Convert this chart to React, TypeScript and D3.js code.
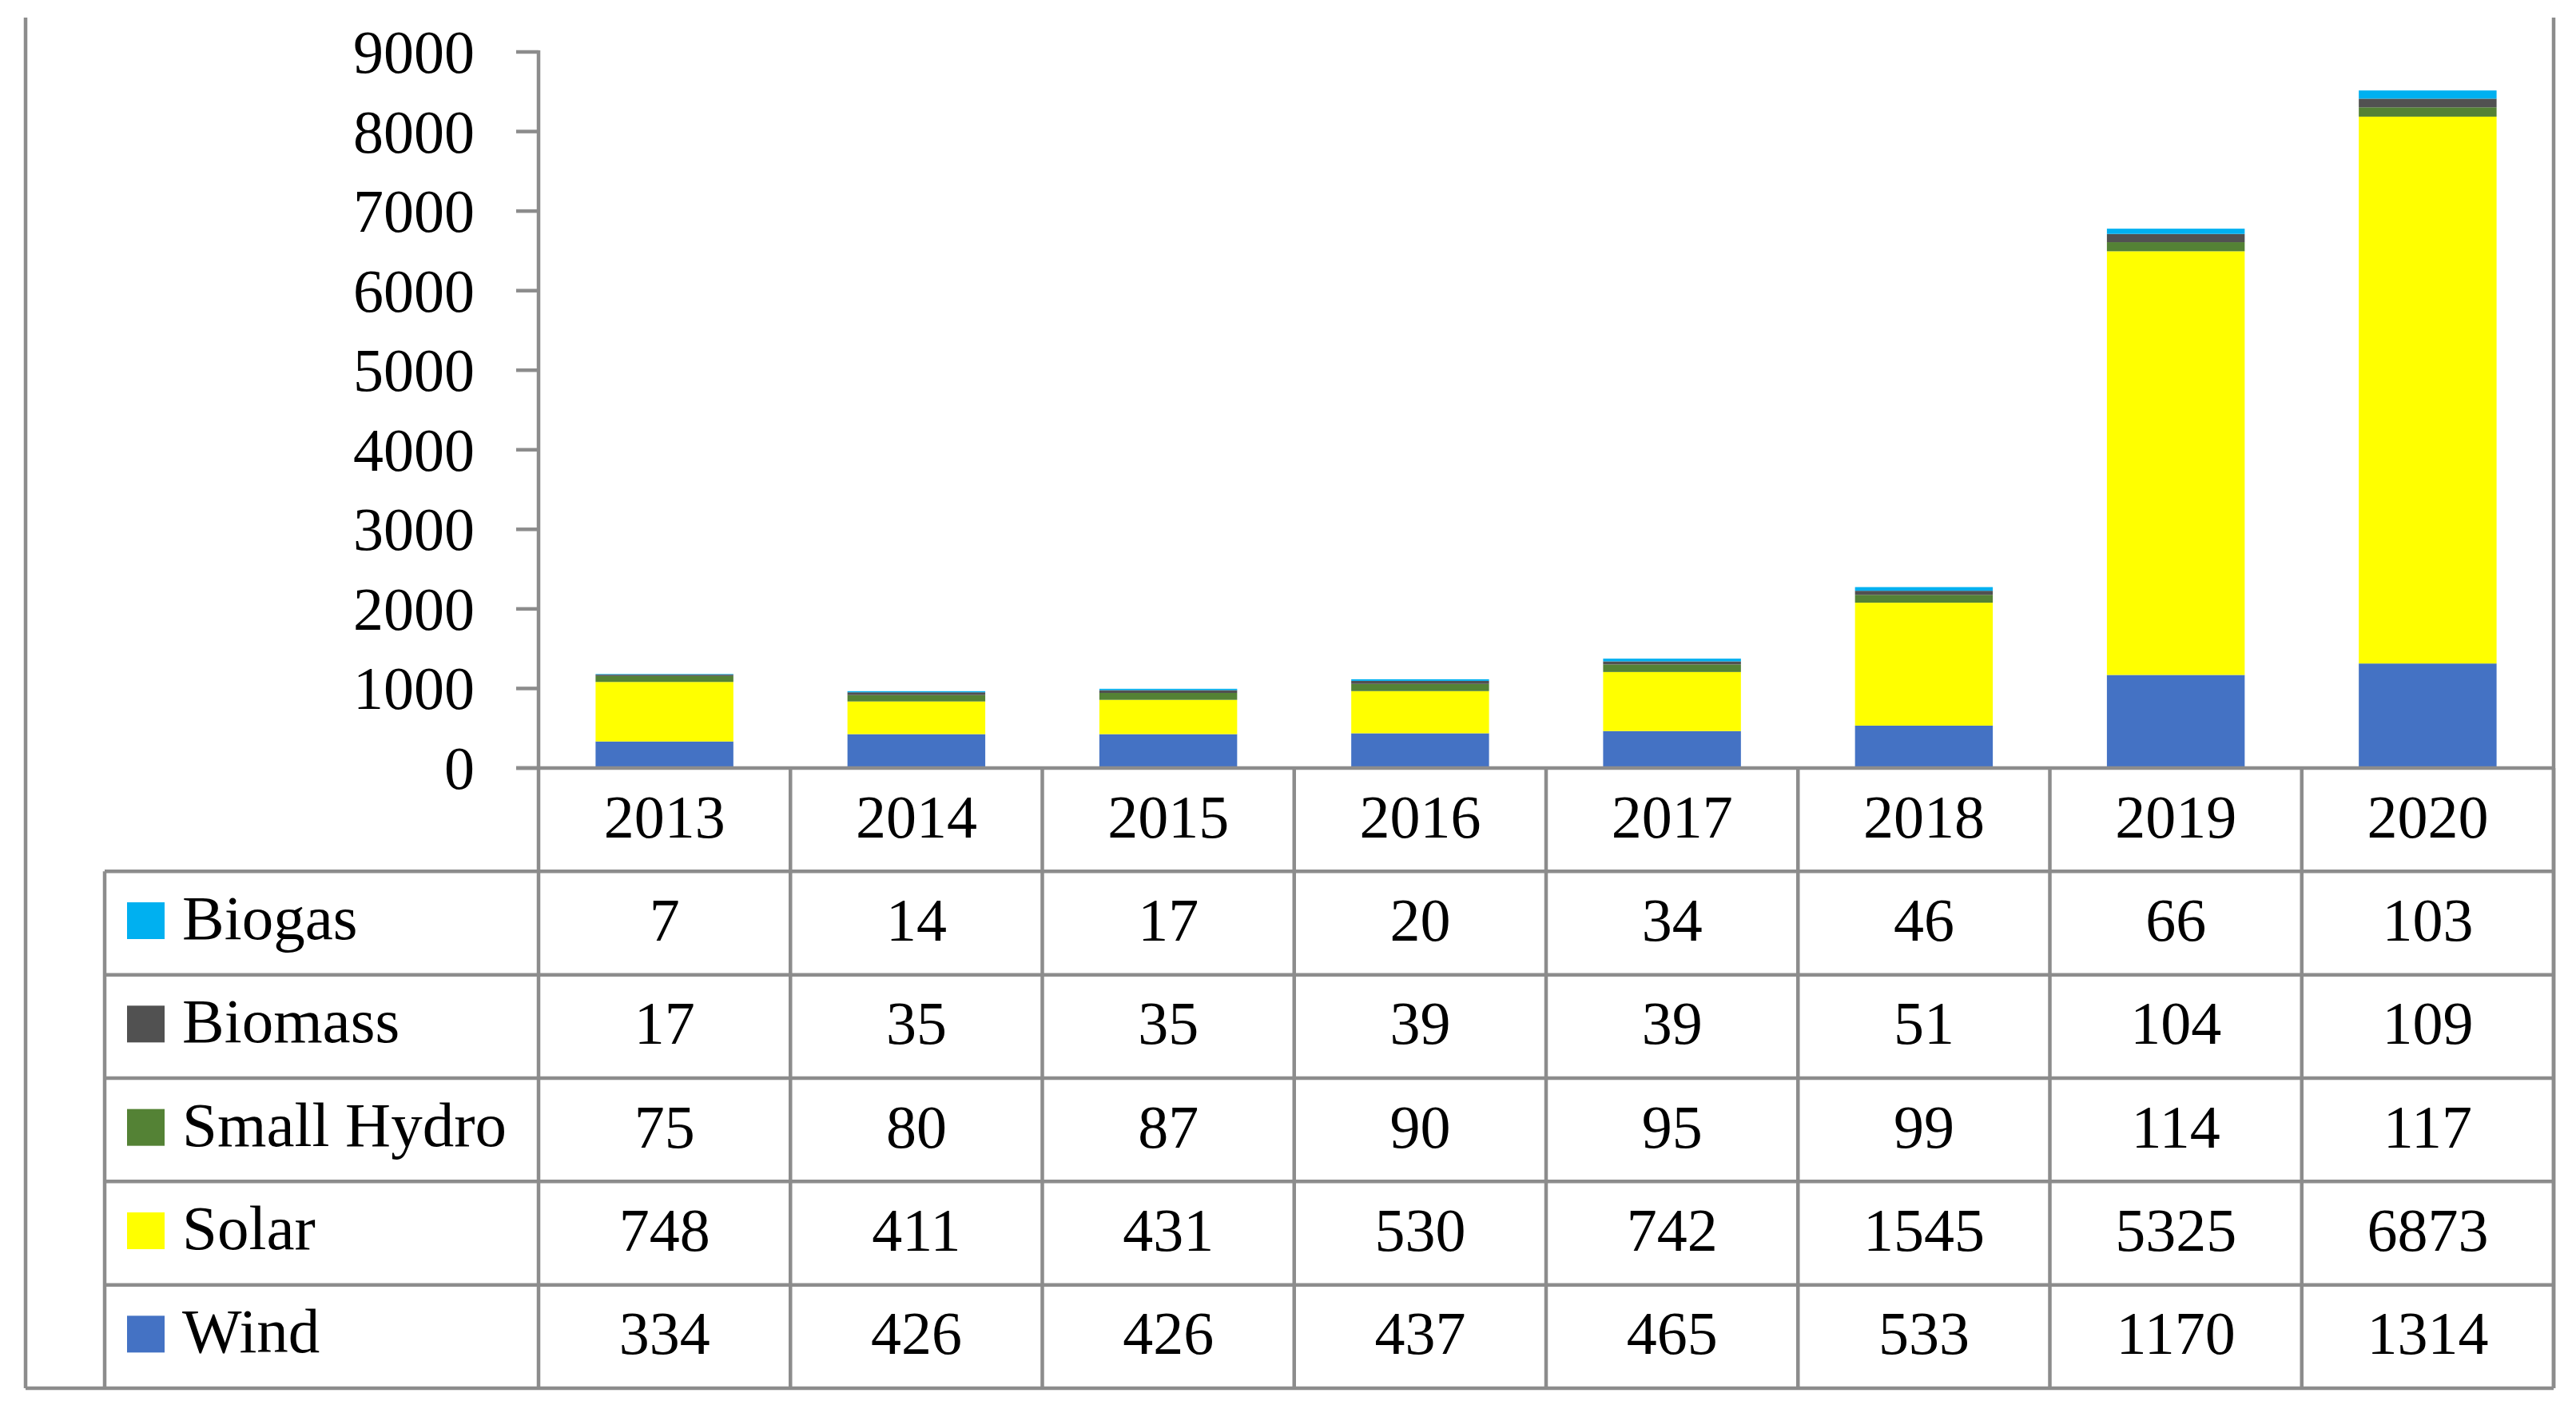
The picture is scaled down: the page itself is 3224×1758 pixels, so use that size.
import React from "react";
import * as d3 from "d3";

const years = ["2013", "2014", "2015", "2016", "2017", "2018", "2019", "2020"];
const biogas = [7, 14, 17, 20, 34, 46, 66, 103];
const biomass = [17, 35, 35, 39, 39, 51, 104, 109];
const smallHydro = [75, 80, 87, 90, 95, 99, 114, 117];
const solar = [748, 411, 431, 530, 742, 1545, 5325, 6873];
const wind = [334, 426, 426, 437, 465, 533, 1170, 1314];
const yTicks = [0, 1000, 2000, 3000, 4000, 5000, 6000, 7000, 8000, 9000];

const seriesNames = ["Biogas", "Biomass", "Small Hydro", "Solar", "Wind"];
const seriesValues = [biogas, biomass, smallHydro, solar, wind];
const seriesColors = ["#00B0F0", "#515151", "#548235", "#FFFF00", "#4472C4"];

const W = 3224;
const H = 1758;
const FONT = "'Liberation Serif', 'Times New Roman', serif";
const GRID = "#8c8c8c";

export default function App() {
  const axisX = 674;
  const rightX = 3196;
  const frameLeft = 32;
  const frameTop = 22;
  const tableLeft = 131;
  const y0 = 961;
  const bottom = 1737;
  const rowH = (bottom - y0) / 6;
  const fs = 76;

  const x = d3.scaleBand<string>().domain(years).range([axisX, rightX]).paddingInner(0.453).paddingOuter(0.2265);
  const y = d3.scaleLinear().domain([0, 9000]).range([y0, 65]);
  const step = x.step();

  const rows = years.map((yr, i) => {
    const o: any = { year: yr };
    seriesNames.forEach((n, k) => (o[n] = seriesValues[k][i]));
    return o;
  });
  const stackOrder = ["Wind", "Solar", "Small Hydro", "Biomass", "Biogas"];
  const stacked = d3.stack<any>().keys(stackOrder)(rows);

  const lineW = 4.5;

  return (
    <svg width={W} height={H} style={{ position: "absolute", left: 0, top: 0, background: "#fff" }} fontFamily={FONT}>
      <rect x={0} y={0} width={W} height={H} fill="#fff" />
      {/* bars */}
      {stacked.map((s) => {
        const color = seriesColors[seriesNames.indexOf(s.key)];
        return (
          <g key={s.key}>
            {s.map((d, i) => (
              <rect
                key={i}
                x={x(years[i])}
                width={x.bandwidth()}
                y={y(d[1])}
                height={y(d[0]) - y(d[1])}
                fill={color}
              />
            ))}
          </g>
        );
      })}
      {/* y ticks */}
      {yTicks.map((t) => (
        <g key={t}>
          <line x1={axisX - 28} x2={axisX} y1={y(t)} y2={y(t)} stroke={GRID} strokeWidth={lineW} />
          <text x={594} y={y(t) + 26} textAnchor="end" fontSize={fs} fill="#000">
            {t}
          </text>
        </g>
      ))}
      {/* y axis line (continues as legend column border) */}
      <line x1={axisX} x2={axisX} y1={y(9000) - 2} y2={bottom} stroke={GRID} strokeWidth={lineW} />
      {/* horizontal axis line */}
      <line x1={axisX - 28} x2={rightX} y1={y0} y2={y0} stroke={GRID} strokeWidth={lineW} />
      {/* column dividers */}
      {years.map((yr, i) => (
        <line
          key={yr}
          x1={axisX + step * (i + 1)}
          x2={axisX + step * (i + 1)}
          y1={y0}
          y2={bottom}
          stroke={GRID}
          strokeWidth={lineW}
        />
      ))}
      {/* table horizontal lines */}
      {[1, 2, 3, 4, 5].map((r) => (
        <line key={r} x1={tableLeft} x2={rightX} y1={y0 + rowH * r} y2={y0 + rowH * r} stroke={GRID} strokeWidth={lineW} />
      ))}
      <line x1={tableLeft} x2={tableLeft} y1={y0 + rowH} y2={bottom} stroke={GRID} strokeWidth={lineW} />
      {/* frame */}
      <line x1={frameLeft} x2={frameLeft} y1={frameTop} y2={bottom} stroke={GRID} strokeWidth={lineW} />
      <line x1={rightX} x2={rightX} y1={frameTop} y2={bottom} stroke={GRID} strokeWidth={lineW} />
      <line x1={frameLeft} x2={rightX} y1={bottom} y2={bottom} stroke={GRID} strokeWidth={lineW} />
      {/* header years */}
      {years.map((yr, i) => (
        <text key={yr} x={axisX + step * (i + 0.5)} y={y0 + rowH / 2 + 22} textAnchor="middle" fontSize={fs} fill="#000">
          {yr}
        </text>
      ))}
      {/* table rows */}
      {seriesNames.map((n, k) => {
        const cy = y0 + rowH * (k + 1.5);
        return (
          <g key={n}>
            <rect x={159} y={cy - 26} width={47} height={46} fill={seriesColors[k]} />
            <text x={228} y={cy + 20} fontSize={fs + 3} fill="#000">
              {n}
            </text>
            {seriesValues[k].map((v, i) => (
              <text key={i} x={axisX + step * (i + 0.5)} y={cy + 22} textAnchor="middle" fontSize={fs} fill="#000">
                {v}
              </text>
            ))}
          </g>
        );
      })}
    </svg>
  );
}
